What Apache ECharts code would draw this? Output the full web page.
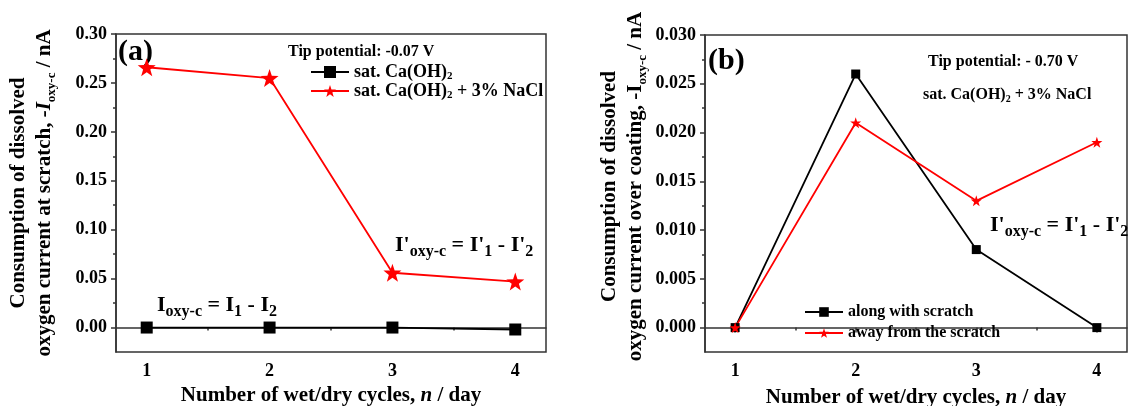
<!DOCTYPE html>
<html>
<head>
<meta charset="utf-8">
<script src="https://cdn.jsdelivr.net/npm/echarts@6/dist/echarts.min.js"></script>
<style>
  html, body { margin: 0; padding: 0; background: #fff; }
  #chart { width: 1129px; height: 406px; }
</style>
</head>
<body>
<div id="chart"></div>
<script>
// data
const cycles = [1, 2, 3, 4];
const xMinor = [1.5, 2.5, 3.5];

// (a) at scratch, nA
const scratchCaOH = [0, 0, 0, -0.002];
const scratchNaCl = [0.266, 0.255, 0.056, 0.047];
const yTicksA = [0, 0.05, 0.10, 0.15, 0.20, 0.25, 0.30];
const yMinorA = [0.025, 0.075, 0.125, 0.175, 0.225, 0.275];

// (b) over coating, nA
const coatingAlong = [0, 0.026, 0.008, 0];
const coatingAway = [0, 0.021, 0.013, 0.019];
const yTicksB = [0, 0.005, 0.010, 0.015, 0.020, 0.025, 0.030];
const yMinorB = [0.0025, 0.0075, 0.0125, 0.0175, 0.0225, 0.0275];

const FONT = "'Liberation Serif', 'Times New Roman', serif";
const AXIS = '#333';
const STAR = 'path://M0,-10 L2.35,-3.24 L9.51,-3.09 L3.8,1.24 L5.88,8.09 L0,4 L-5.88,8.09 L-3.8,1.24 L-9.51,-3.09 L-2.35,-3.24 Z';

function pairs(xs, ys) {
  return xs.map((x, i) => [x, ys[i]]);
}

const legendRich = {
  t: {fontFamily: FONT, fontWeight: 'bold', fontSize: 18, lineHeight: 20, color: '#000'},
  s: {fontFamily: FONT, fontWeight: 'bold', fontSize: 11, lineHeight: 8, verticalAlign: 'bottom', color: '#000'}
};
const subRich = {
  t: {fontFamily: FONT, fontWeight: 'bold', fontSize: 16, lineHeight: 18, color: '#000'},
  s: {fontFamily: FONT, fontWeight: 'bold', fontSize: 10, lineHeight: 8, verticalAlign: 'bottom', color: '#000'}
};
const formulaRich = {
  m: {fontFamily: FONT, fontWeight: 'bold', fontSize: 22, lineHeight: 30, color: '#000'},
  s: {fontFamily: FONT, fontWeight: 'bold', fontSize: 16, lineHeight: 15, verticalAlign: 'bottom', color: '#000'}
};
const nameRich = {
  n: {fontFamily: FONT, fontWeight: 'bold', fontSize: 21, lineHeight: 26, color: '#000'},
  i: {fontFamily: FONT, fontWeight: 'bold', fontStyle: 'italic', fontSize: 21, lineHeight: 26, color: '#000'},
  s: {fontFamily: FONT, fontWeight: 'bold', fontSize: 13, lineHeight: 12, verticalAlign: 'bottom', color: '#000'}
};

function mainX(gridIndex, gap) {
  return {
    type: 'value', gridIndex: gridIndex, position: 'bottom',
    min: 0.75, max: 4.25,
    name: '{n|Number of wet/dry cycles, }{i|n}{n| / day}',
    nameLocation: 'middle', nameGap: gap,
    nameTextStyle: {rich: nameRich},
    axisLine: {lineStyle: {color: AXIS, width: 1.5}},
    axisTick: {show: true, length: 5, customValues: cycles, lineStyle: {color: AXIS, width: 1.5}},
    axisLabel: {customValues: cycles, margin: 10, color: '#000', fontFamily: FONT, fontWeight: 'bold', fontSize: 18},
    splitLine: {show: false}
  };
}
function minorX(gridIndex) {
  return {
    type: 'value', gridIndex: gridIndex, position: 'bottom',
    min: 0.75, max: 4.25,
    axisLine: {show: false},
    axisTick: {show: true, length: 3, customValues: xMinor, lineStyle: {color: AXIS, width: 1.5}},
    axisLabel: {show: false},
    splitLine: {show: false}
  };
}
function mainY(gridIndex, min, max, ticks, digits, name, gap, pad) {
  return {
    type: 'value', gridIndex: gridIndex, position: 'left',
    min: min, max: max,
    name: name, nameLocation: 'middle', nameGap: gap,
    nameTextStyle: {rich: nameRich, padding: pad},
    axisLine: {show: true, lineStyle: {color: AXIS, width: 1.5}},
    axisTick: {show: true, length: 5, customValues: ticks, lineStyle: {color: AXIS, width: 1.5}},
    axisLabel: {customValues: ticks, margin: 9, color: '#000', fontFamily: FONT, fontWeight: 'bold', fontSize: 18,
      formatter: v => v.toFixed(digits)},
    splitLine: {show: false}
  };
}
function minorY(gridIndex, min, max, ticks) {
  return {
    type: 'value', gridIndex: gridIndex, position: 'left',
    min: min, max: max,
    axisLine: {show: false},
    axisTick: {show: true, length: 3, customValues: ticks, lineStyle: {color: AXIS, width: 1.5}},
    axisLabel: {show: false},
    splitLine: {show: false}
  };
}

// legend label with subscript 2 in Ca(OH)2
function subName(name) {
  return '{t|' + name.replace('Ca(OH)2', 'Ca(OH)}{s|2}{t|') + '}';
}

const chart = echarts.init(document.getElementById('chart'), null, {renderer: 'canvas'});

const option = {
  animation: false,
  backgroundColor: '#fff',
  grid: [
    {left: 116, top: 34, width: 430, height: 318, show: true, borderColor: AXIS, borderWidth: 1.5,
      backgroundColor: 'transparent', outerBoundsMode: 'none'},
    {left: 705, top: 35, width: 422, height: 317, show: true, borderColor: AXIS, borderWidth: 1.5,
      backgroundColor: 'transparent', outerBoundsMode: 'none'}
  ],
  xAxis: [mainX(0, 24), minorX(0), mainX(1, 33), minorX(1)],
  yAxis: [
    mainY(0, -0.025, 0.30, yTicksA, 2,
      '{n|Consumption of dissolved}\n{n|oxygen current at scratch, }{i|-I}{s|oxy-c}{n| / nA}', 58, 0),
    minorY(0, -0.025, 0.30, yMinorA),
    mainY(1, -0.0025, 0.030, yTicksB, 3,
      '{n|Consumption of dissolved}\n{n|oxygen current over coating, -I}{s|oxy-c}{n| / nA}', 56, [0, 0, 0, 14]),
    minorY(1, -0.0025, 0.030, yMinorB)
  ],
  legend: [
    {
      data: ['sat. Ca(OH)2', 'sat. Ca(OH)2 + 3% NaCl'],
      orient: 'vertical', left: 305, top: 58, itemWidth: 38, itemHeight: 15, itemGap: 0,
      formatter: subName,
      lineStyle: {width: 2},
      textStyle: {rich: legendRich}
    },
    {
      data: ['along with scratch', 'away from the scratch'],
      orient: 'vertical', left: 799, top: 299, itemWidth: 38, itemHeight: 12, itemGap: 5,
      lineStyle: {width: 2},
      textStyle: {fontFamily: FONT, fontWeight: 'bold', fontSize: 16, color: '#000'}
    }
  ],
  series: [
    {
      name: 'sat. Ca(OH)2', type: 'line', xAxisIndex: 0, yAxisIndex: 0,
      data: pairs(cycles, scratchCaOH),
      symbol: 'rect', symbolSize: 12,
      lineStyle: {color: '#000', width: 1.8}, itemStyle: {color: '#000'}
    },
    {
      name: 'sat. Ca(OH)2 + 3% NaCl', type: 'line', xAxisIndex: 0, yAxisIndex: 0,
      data: pairs(cycles, scratchNaCl),
      symbol: STAR, symbolSize: 18,
      lineStyle: {color: '#ff0000', width: 1.8}, itemStyle: {color: '#ff0000'}
    },
    {
      name: 'along with scratch', type: 'line', xAxisIndex: 2, yAxisIndex: 2,
      data: pairs(cycles, coatingAlong),
      symbol: 'rect', symbolSize: 9,
      lineStyle: {color: '#000', width: 1.8}, itemStyle: {color: '#000'}
    },
    {
      name: 'away from the scratch', type: 'line', xAxisIndex: 2, yAxisIndex: 2,
      data: pairs(cycles, coatingAway),
      symbol: STAR, symbolSize: 11,
      lineStyle: {color: '#ff0000', width: 1.8}, itemStyle: {color: '#ff0000'}
    }
  ],
  graphic: [
    {type: 'text', left: 118, top: 37, style: {text: '(a)', font: 'bold 30px ' + FONT, fill: '#000'}},
    {type: 'text', left: 288, top: 44, style: {text: 'Tip potential: -0.07 V', font: 'bold 16px ' + FONT, fill: '#000'}},
    {type: 'text', left: 395, top: 234,
      style: {text: "{m|I'}{s|oxy-c}{m| = I'}{s|1}{m| - I'}{s|2}", rich: formulaRich}},
    {type: 'text', left: 157, top: 294,
      style: {text: '{m|I}{s|oxy-c}{m| = I}{s|1}{m| - I}{s|2}', rich: formulaRich}},
    {type: 'text', left: 708, top: 46, style: {text: '(b)', font: 'bold 30px ' + FONT, fill: '#000'}},
    {type: 'text', left: 928, top: 54, style: {text: 'Tip potential: - 0.70 V', font: 'bold 16px ' + FONT, fill: '#000'}},
    {type: 'text', left: 923, top: 87,
      style: {text: '{t|sat. Ca(OH)}{s|2}{t| + 3% NaCl}', rich: subRich}},
    {type: 'text', left: 990, top: 214,
      style: {text: "{m|I'}{s|oxy-c}{m| = I'}{s|1}{m| - I'}{s|2}", rich: formulaRich}}
  ]
};

chart.setOption(option);
window.addEventListener('resize', () => chart.resize());
</script>
</body>
</html>
